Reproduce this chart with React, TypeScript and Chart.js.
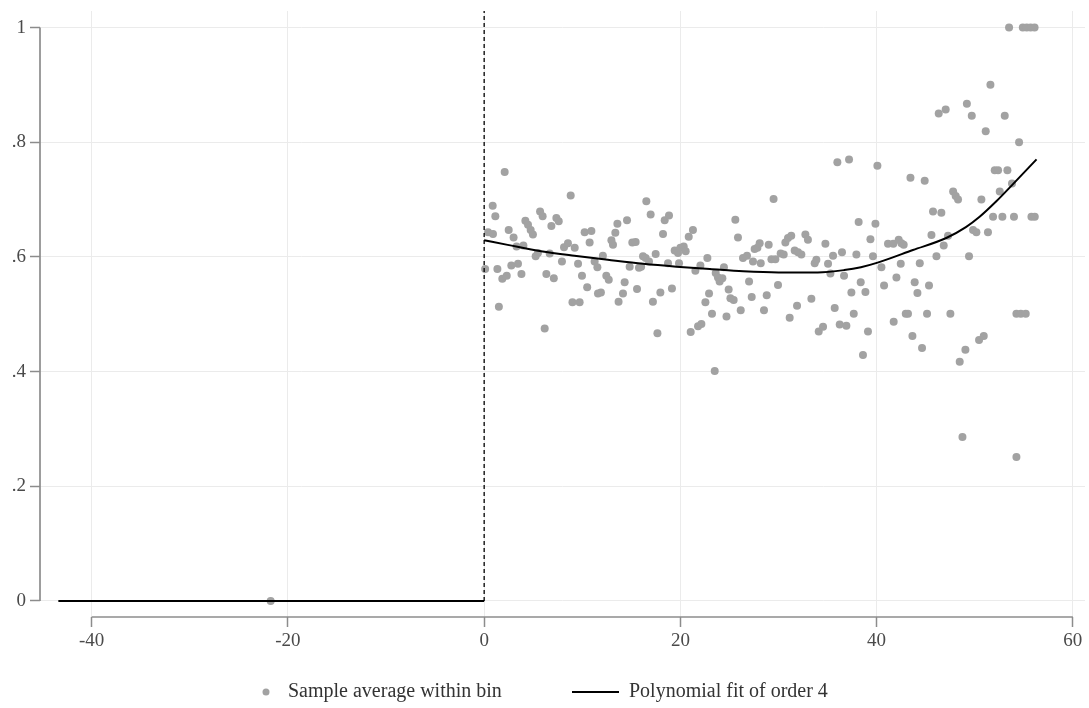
import React, { useEffect, useRef } from "react";
import { Chart, registerables } from "chart.js";

Chart.register(...registerables);

// Bin averages (x = running variable bin centre, y = sample average)
const binX = [
  -21.76,
  2.09, 0.87, 1.14, 0.4, 0.9, 0.1, 1.35, 1.5, 1.85, 2.3, 2.5, 3.0, 3.3, 2.77, 3.45, 3.8, 4.0, 4.2, 4.47, 4.74,
  4.97, 5.25, 5.48, 5.7, 5.96, 6.34, 6.17, 7.1, 6.85, 7.36, 7.6, 6.68, 7.93, 8.14, 8.54, 8.82, 9.23, 9.57, 9.97,
  10.5, 9.0, 9.73, 10.24, 10.93, 10.75, 11.26, 11.54, 11.9, 11.6, 12.1, 12.45, 12.7, 12.97, 13.13, 13.37, 13.58, 13.7,
  14.32, 14.15, 14.56, 15.1, 15.44, 14.83, 15.58, 15.78, 16.0, 16.19, 16.46, 16.8, 16.53, 16.97, 17.48, 17.2, 17.96,
  17.66, 18.23, 18.4, 18.84, 18.74, 19.14, 19.42, 19.76, 20.0, 20.34, 20.54, 19.86, 20.85, 21.28, 21.05, 21.8, 22.14,
  21.53, 22.04, 22.75, 22.92, 22.55, 23.22, 23.6, 23.83, 24.0, 24.28, 24.44, 24.7, 24.92, 25.1, 25.43, 25.6, 25.87,
  26.15, 26.38, 26.79, 27.0, 27.27, 27.4, 27.57, 23.5,
  28.19, 27.85, 28.08, 29.0, 28.52, 28.8, 29.28, 29.68, 29.5, 29.95, 30.22, 30.53, 30.7, 30.97, 31.3, 31.14, 31.65,
  31.99, 32.33, 31.89, 32.74, 33.0, 33.35, 33.69, 33.86, 34.1, 34.54, 34.78, 35.05, 35.29, 35.56, 35.73, 36.0, 37.19,
  36.24, 36.92, 36.47, 36.68, 37.43, 37.67, 37.94, 38.17, 38.38, 38.61, 38.86, 39.12, 39.37, 39.63, 39.88, 40.08,
  40.49, 40.76, 41.16,
  53.5, 54.9, 55.3, 55.7, 56.1, 51.6, 46.33, 47.04, 49.2, 49.7, 53.06, 51.12, 54.52, 43.45, 44.9, 52.04, 52.38, 53.33,
  47.8, 48.06, 48.3, 50.68, 52.55, 53.8, 45.75, 46.6, 51.87, 52.82, 54.0, 55.78, 56.12, 41.7, 42.25, 42.53, 42.76,
  42.46, 42.02, 41.74, 42.97, 43.2, 43.65, 43.88, 44.16, 44.4, 44.63, 45.14, 45.34, 45.59, 46.1, 46.84, 47.28, 47.52,
  48.47, 49.05, 48.75, 49.42, 49.83, 50.17, 50.44, 50.92, 51.35, 54.25, 54.7, 55.2, 54.25,
];
const binY = [
  0,
  0.748, 0.689, 0.671, 0.643, 0.64, 0.579, 0.579, 0.513, 0.562, 0.567, 0.647, 0.634, 0.618, 0.585, 0.588, 0.57, 0.62, 0.663, 0.656, 0.647,
  0.639, 0.601, 0.607, 0.679, 0.671, 0.57, 0.475, 0.563, 0.654, 0.668, 0.662, 0.606, 0.592, 0.617, 0.624, 0.707, 0.616, 0.588, 0.567,
  0.547, 0.521, 0.521, 0.643, 0.645, 0.625, 0.592, 0.582, 0.538, 0.536, 0.602, 0.567, 0.56, 0.629, 0.621, 0.642, 0.658, 0.522,
  0.556, 0.536, 0.664, 0.625, 0.626, 0.583, 0.544, 0.581, 0.583, 0.601, 0.598, 0.592, 0.697, 0.674, 0.605, 0.522, 0.538,
  0.467, 0.64, 0.664, 0.672, 0.589, 0.545, 0.611, 0.607, 0.616, 0.618, 0.61, 0.589, 0.635, 0.647, 0.469, 0.479, 0.483,
  0.576, 0.585, 0.598, 0.536, 0.521, 0.501, 0.572, 0.564, 0.557, 0.563, 0.582, 0.496, 0.543, 0.528, 0.525, 0.665, 0.634,
  0.507, 0.598, 0.602, 0.557, 0.53, 0.592, 0.614, 0.401,
  0.589, 0.616, 0.624, 0.621, 0.507, 0.533, 0.596, 0.596, 0.701, 0.551, 0.606, 0.604, 0.625, 0.633, 0.637, 0.494, 0.611,
  0.608, 0.604, 0.515, 0.639, 0.63, 0.527, 0.589, 0.595, 0.47, 0.478, 0.623, 0.588, 0.571, 0.602, 0.511, 0.765, 0.77,
  0.482, 0.48, 0.608, 0.567, 0.538, 0.501, 0.604, 0.661, 0.556, 0.429, 0.539, 0.47, 0.631, 0.601, 0.658, 0.759,
  0.582, 0.55, 0.623,
  1.0, 1.0, 1.0, 1.0, 1.0, 0.9, 0.85, 0.857, 0.867, 0.846, 0.846, 0.819, 0.8, 0.738, 0.733, 0.751, 0.751, 0.751,
  0.714, 0.706, 0.7, 0.7, 0.714, 0.728, 0.679, 0.677, 0.67, 0.67, 0.67, 0.67, 0.67, 0.623, 0.63, 0.624, 0.621,
  0.588, 0.564, 0.487, 0.501, 0.501, 0.462, 0.556, 0.537, 0.589, 0.441, 0.501, 0.55, 0.638, 0.601, 0.62, 0.637, 0.501,
  0.417, 0.438, 0.286, 0.601, 0.647, 0.643, 0.455, 0.462, 0.643, 0.501, 0.501, 0.501, 0.251,
];

// Polynomial fit, left of cutoff
const fitLeftX = [-43.4, 0];
const fitLeftY = [0, 0];
// Polynomial fit, right of cutoff
const fitRightX = [0, 2.4, 5.8, 9.2, 12.6, 16.2, 19.6, 23.0, 26.4, 30.0, 34.0, 36.7, 38.4, 40.1, 43.7, 47.1, 49.1, 50.5, 52.2, 53.9, 56.3];
const fitRightY = [0.629, 0.621, 0.61, 0.602, 0.595, 0.588, 0.583, 0.579, 0.575, 0.573, 0.573, 0.577, 0.582, 0.59, 0.612, 0.633, 0.652, 0.67, 0.697, 0.727, 0.77];

const cutoff = 0;

const xTicks = [-40, -20, 0, 20, 40, 60];
const yTicks = [0, 0.2, 0.4, 0.6, 0.8, 1];
const yTickLabels = ["0", ".2", ".4", ".6", ".8", "1"];

const legendLabels = ["Sample average within bin", "Polynomial fit of order 4"];

const FONT = "'Liberation Serif', 'DejaVu Serif', serif";
const POINT_COLOR = "#a2a2a2";
const AXIS_COLOR = "#8c8c8c";

export default function App() {
  const ref = useRef<HTMLCanvasElement>(null);

  useEffect(() => {
    const canvas = ref.current;
    if (!canvas) return;

    const stataPlugin = {
      id: "stataDecor",
      afterDatasetsDraw(chart: any) {
        const { ctx, chartArea, scales } = chart;
        const xs = scales.x;
        const ys = scales.y;
        ctx.save();
        ctx.strokeStyle = AXIS_COLOR;
        ctx.lineWidth = 1.7;
        ctx.beginPath();
        ctx.moveTo(chartArea.left, ys.getPixelForValue(yTicks[0]));
        ctx.lineTo(chartArea.left, ys.getPixelForValue(yTicks[yTicks.length - 1]));
        ctx.stroke();
        ctx.beginPath();
        ctx.moveTo(xs.getPixelForValue(xTicks[0]), chartArea.bottom);
        ctx.lineTo(xs.getPixelForValue(xTicks[xTicks.length - 1]), chartArea.bottom);
        ctx.stroke();
        // dashed cutoff line
        ctx.strokeStyle = "#000";
        ctx.lineWidth = 1.3;
        ctx.setLineDash([4, 3]);
        ctx.beginPath();
        const cx = xs.getPixelForValue(cutoff);
        ctx.moveTo(cx, ys.getPixelForValue(0));
        ctx.lineTo(cx, chartArea.top);
        ctx.stroke();
        ctx.setLineDash([]);
        ctx.restore();
      },
      afterDraw(chart: any) {
        const { ctx } = chart;
        ctx.save();
        const ly = 692;
        ctx.fillStyle = POINT_COLOR;
        ctx.beginPath();
        ctx.arc(266, ly, 3.5, 0, Math.PI * 2);
        ctx.fill();
        ctx.fillStyle = "#333";
        ctx.font = `20px ${FONT}`;
        ctx.textBaseline = "middle";
        ctx.textAlign = "left";
        ctx.fillText(legendLabels[0], 288, ly);
        ctx.strokeStyle = "#000";
        ctx.lineWidth = 2;
        ctx.beginPath();
        ctx.moveTo(572, ly);
        ctx.lineTo(619, ly);
        ctx.stroke();
        ctx.fillText(legendLabels[1], 629, ly);
        ctx.restore();
      },
    };

    const chart = new Chart(canvas, {
      type: "scatter",
      data: {
        datasets: [
          {
            label: legendLabels[1],
            type: "line",
            data: fitRightX.map((x, i) => ({ x, y: fitRightY[i] })),
            borderColor: "#000",
            borderWidth: 2,
            pointRadius: 0,
            cubicInterpolationMode: "monotone",
            fill: false,
            order: 1,
          } as any,
          {
            label: "fit left",
            type: "line",
            data: fitLeftX.map((x, i) => ({ x, y: fitLeftY[i] })),
            borderColor: "#000",
            borderWidth: 2,
            pointRadius: 0,
            fill: false,
            order: 1,
          } as any,
          {
            label: legendLabels[0],
            data: binX.map((x, i) => ({ x, y: binY[i] })),
            pointRadius: 4,
            pointBackgroundColor: POINT_COLOR,
            pointBorderWidth: 0,
            pointBorderColor: POINT_COLOR,
            order: 2,
          } as any,
        ],
      },
      options: {
        animation: false,
        responsive: false,
        devicePixelRatio: 1,
        layout: { padding: { top: 11, right: 2, left: 0, bottom: 0 } },
        plugins: { legend: { display: false }, tooltip: { enabled: false } },
        scales: {
          x: {
            type: "linear",
            min: -45.27,
            max: 61.24,
            afterBuildTicks: (s: any) => {
              s.ticks = xTicks.map((v) => ({ value: v }));
            },
            afterFit: (s: any) => {
              s.height = 91;
              s.paddingLeft = 0;
              s.paddingRight = 0;
            },
            ticks: {
              autoSkip: false,
              maxRotation: 0,
              padding: 3,
              color: "#4a4a4a",
              font: { family: FONT, size: 19 },
              callback: (v: any) => String(v),
            },
            grid: { color: "#ebebeb", lineWidth: 1, tickColor: AXIS_COLOR, tickLength: 10, tickWidth: 1.5 },
            border: { display: false },
          },
          y: {
            type: "linear",
            min: -0.0279,
            max: 1.0288,
            afterBuildTicks: (s: any) => {
              s.ticks = yTicks.map((v) => ({ value: v }));
            },
            afterFit: (s: any) => {
              s.width = 40;
              s.paddingTop = 0;
              s.paddingBottom = 0;
            },
            ticks: {
              autoSkip: false,
              padding: 4,
              color: "#4a4a4a",
              font: { family: FONT, size: 19 },
              callback: (_v: any, i: number) => yTickLabels[i],
            },
            grid: { color: "#ebebeb", lineWidth: 1, tickColor: AXIS_COLOR, tickLength: 10, tickWidth: 1.5 },
            border: { display: false },
          },
        },
      },
      plugins: [stataPlugin],
    });

    return () => chart.destroy();
  }, []);

  return (
    <div style={{ position: "fixed", left: 0, top: 0, width: 1089, height: 708, background: "#fff" }}>
      <canvas ref={ref} width={1089} height={708} style={{ width: 1089, height: 708, display: "block" }} />
    </div>
  );
}
